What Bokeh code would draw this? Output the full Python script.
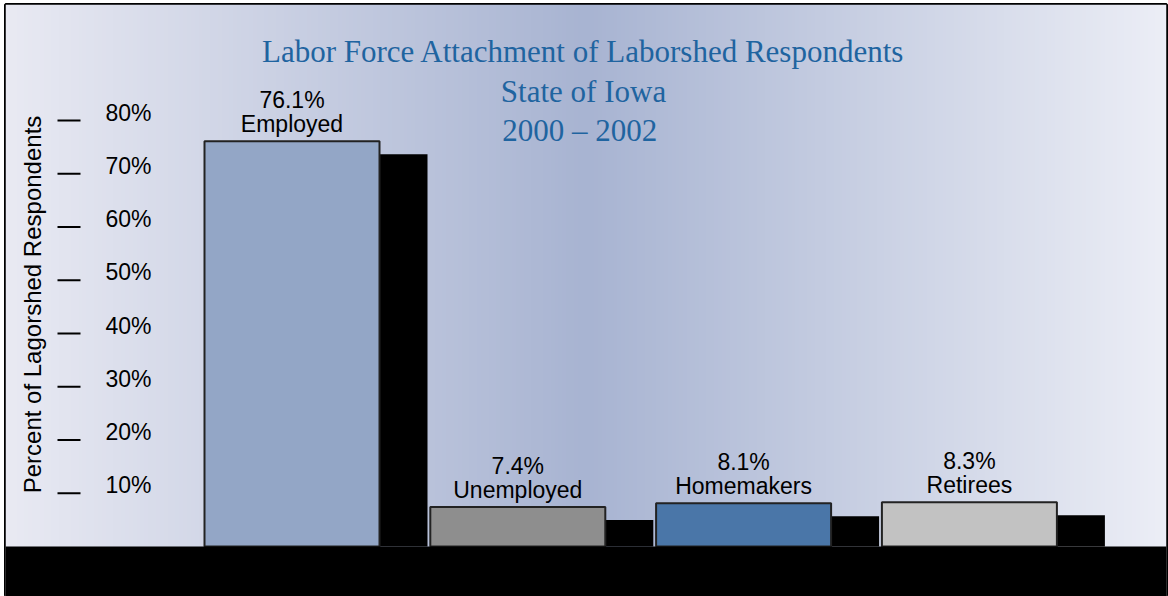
import numpy as np
from bokeh.plotting import figure
from bokeh.models import Range1d, BoxAnnotation, ColumnDataSource
from bokeh.core.properties import value
from bokeh.embed import file_html
from bokeh.resources import INLINE

# ---- data ----
categories = ["Employed", "Unemployed", "Homemakers", "Retirees"]
percents = [76.1, 7.4, 8.1, 8.3]
percent_labels = ["76.1%", "7.4%", "8.1%", "8.3%"]
bar_colors = ["#93a6c6", "#8e8e8e", "#4a76a8", "#c2c2c2"]
tick_values = [10, 20, 30, 40, 50, 60, 70, 80]
tick_labels = ["10%", "20%", "30%", "40%", "50%", "60%", "70%", "80%"]
title_lines = ["Labor Force Attachment of Laborshed Respondents", "State of Iowa", "2000 \u2013  2002"]
y_title = "Percent of Lagorshed Respondents"

# ---- layout constants ----
W, H = 1168, 596
BL, BT, BR, BB = 5, 4, 2, 0      # borders around the frame
FW, FH = W - BL - BR, H - BT - BB
UNIT = 225.8          # pixels per category step
PX_PER_PCT = 5.325    # pixels per percentage point
BAR_W_PX = 175
SHADOW_DX, SHADOW_DY = 48, 13

x_start = -(291.5 - BL) / UNIT
x_end = x_start + FW / UNIT
y_start = -(BT + FH - 546) / PX_PER_PCT
y_end = y_start + FH / PX_PER_PCT


def px_x(page_x):
    return x_start + (page_x - BL) / UNIT


def px_y(page_y):
    return y_end - (page_y - BT) / PX_PER_PCT


p = figure(width=W, height=H, output_backend="svg", toolbar_location=None,
           x_range=Range1d(x_start, x_end), y_range=Range1d(y_start, y_end),
           x_axis_location=None, y_axis_location=None,
           min_border=0, min_border_left=BL, min_border_right=BR,
           min_border_top=BT, min_border_bottom=BB)
p.grid.visible = False
p.outline_line_color = "black"
p.outline_line_width = 3
p.border_fill_color = "white"

# ---- background gradient (horizontal) ----
N = 300
t = np.linspace(0, 1, N)
stops_t = [0.0, 0.5, 1.0]
stops_c = np.array([[233, 234, 243], [168, 180, 210], [236, 238, 246]], dtype=float)
img = np.empty((1, N), dtype=np.uint32)
view = img.view(dtype=np.uint8).reshape((1, N, 4))
for k in range(3):
    view[0, :, k] = np.interp(t, stops_t, stops_c[:, k]).astype(np.uint8)
view[0, :, 3] = 255
p.image_rgba(image=[img], x=x_start, y=y_start, dw=x_end - x_start, dh=y_end - y_start)

idx = list(range(len(categories)))
src = ColumnDataSource(dict(
    x=idx,
    top=percents,
    color=bar_colors,
    name=categories,
    pct=percent_labels,
    sx=[i + SHADOW_DX / UNIT for i in idx],
    stop=[v - SHADOW_DY / PX_PER_PCT for v in percents],
))

# shadows
p.vbar(x="sx", top="stop", bottom=0, width=BAR_W_PX / UNIT, source=src,
       fill_color="black", line_color=None)
# bars
p.vbar(x="x", top="top", bottom=0, width=BAR_W_PX / UNIT, source=src,
       fill_color="color", line_color="#222222", line_width=2)

# bar labels
p.text(x="x", y="top", text="name", source=src, y_offset=-17.5,
       text_align="center", text_baseline="middle",
       text_font=value("Liberation Sans"), text_font_size="23px", text_color="black")
p.text(x="x", y="top", text="pct", source=src, y_offset=-41,
       text_align="center", text_baseline="middle",
       text_font=value("Liberation Sans"), text_font_size="23px", text_color="black")

# bottom black band
p.add_layout(BoxAnnotation(top=0, fill_color="black", fill_alpha=1, line_color=None))

# y ticks (dash marks + labels)
tsrc = ColumnDataSource(dict(y=tick_values, label=tick_labels,
                             x0=[px_x(57)] * len(tick_values),
                             x1=[px_x(80)] * len(tick_values),
                             xl=[px_x(105)] * len(tick_values)))
p.segment(x0="x0", y0="y", x1="x1", y1="y", source=tsrc, line_color="black", line_width=2)
p.text(x="xl", y="y", text="label", source=tsrc, y_offset=-8, text_align="left",
       text_baseline="middle", text_font=value("Liberation Sans"),
       text_font_size="23px", text_color="black")

# y title
p.text(x=[px_x(32)], y=[px_y(304)], text=[y_title], angle=np.pi / 2,
       text_align="center", text_baseline="middle",
       text_font=value("Liberation Sans"), text_font_size="24px", text_color="black")

# chart title
p.text(x=[px_x(583)] * 3, y=[px_y(51), px_y(90.5), px_y(130)], text=title_lines,
       text_align="center", text_baseline="middle",
       text_font=value("Liberation Serif"), text_font_size="31px", text_color="#1f64a0")

open("out.html", "w").write(file_html(p, INLINE))
